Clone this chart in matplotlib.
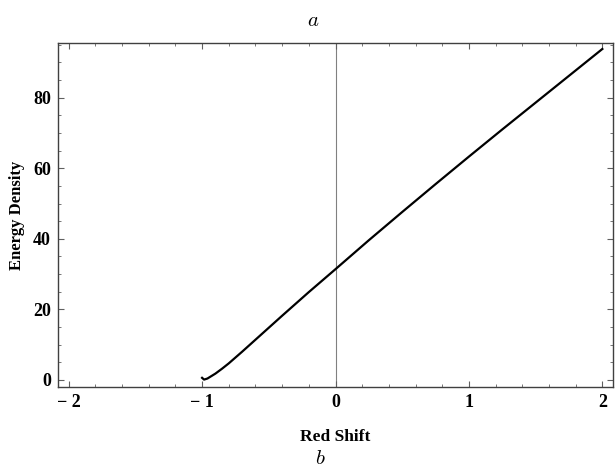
import numpy as np
import matplotlib
matplotlib.use("Agg")
import matplotlib.pyplot as plt
import matplotlib.ticker as tck

# Data
red_shift = [-1.0, -0.985, -0.96, -0.9, -0.85, -0.8, -0.7, -0.6, -0.5, -0.4, -0.2,
             0.0, 0.25, 0.5, 0.75, 1.0, 1.25, 1.5, 1.75, 2.0]
energy = [0.6, 0.1, 0.4, 1.8, 3.2, 4.7, 8.0, 11.4, 14.8, 18.2, 24.9,
          31.4, 39.6, 47.6, 55.5, 63.3, 71.0, 78.6, 86.2, 93.8]
x_ticks = [-2, -1, 0, 1, 2]
y_ticks = [0, 20, 40, 60, 80]

plt.rcParams['mathtext.fontset'] = 'cm'
serif = 'Liberation Serif'

fig = plt.figure(figsize=(6.16, 4.69), dpi=100)
ax = fig.add_axes([58/616, 1-387/469, 555/616, 344/469])

ax.axvline(0, color='#808080', lw=0.8, zorder=1)
ax.plot(red_shift, energy, color='black', lw=1.6, zorder=2)

ax.set_xlim(-2.08, 2.08)
ax.set_ylim(-2.0, 95.5)
ax.set_xticks(x_ticks)
ax.set_yticks(y_ticks)
ax.xaxis.set_minor_locator(tck.MultipleLocator(0.2))
ax.yaxis.set_minor_locator(tck.MultipleLocator(5))
ax.set_xticklabels(['\u2212 2', '\u2212 1', '0', '1', '2'])

for s in ax.spines.values():
    s.set_color('#404040')
    s.set_linewidth(1.0)
ax.tick_params(which='both', direction='in', top=True, right=True, color='#606060')
ax.tick_params(which='major', length=4.5, width=0.8, pad=5)
ax.tick_params(which='minor', length=2.5, width=0.6)
for lab in ax.get_xticklabels() + ax.get_yticklabels():
    lab.set_fontfamily(serif)
    lab.set_fontweight('bold')
    lab.set_fontsize(13)

ax.set_xlabel('Red Shift', fontfamily=serif, fontweight='bold', fontsize=12.5, labelpad=13)
ax.set_ylabel('Energy Density', fontfamily=serif, fontweight='bold', fontsize=12, labelpad=6)

fig.text(313/616, 1-20/469, r'$a$', ha='center', va='center', fontsize=15)
fig.text(320/616, 1-458/469, r'$b$', ha='center', va='center', fontsize=15)

plt.savefig('out.png', dpi=100)
